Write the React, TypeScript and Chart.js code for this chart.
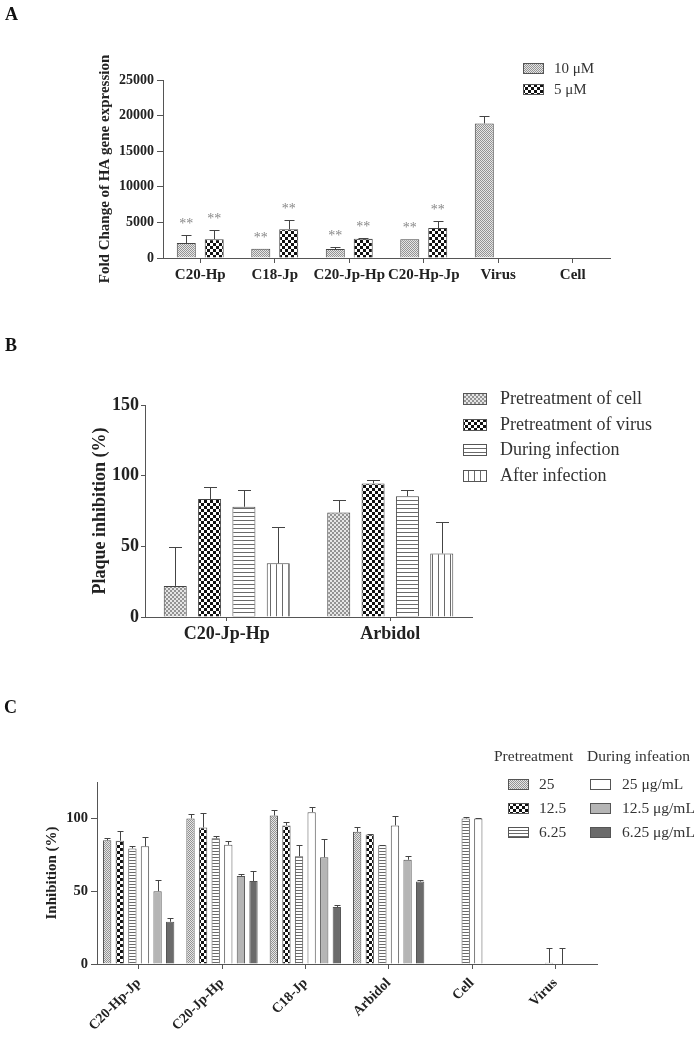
import React, { useEffect, useRef } from 'react';
import { Chart, registerables } from 'chart.js';
Chart.register(...registerables);

const FONT = "'Liberation Serif', 'Times New Roman', serif";
const AXIS = '#555';
const TXT = '#222';

// ---------- Panel A ----------
const catsA = ['C20-Hp', 'C18-Jp', 'C20-Jp-Hp', 'C20-Hp-Jp', 'Virus', 'Cell'];
const a10 = [2100, 1300, 1250, 2650, 18900, null];
const a10Err = [1150, 0, 330, 0, 1100, null];
const a5 = [2650, 4050, 2700, 4200, null, null];
const a5Err = [1300, 1300, 80, 1000, null, null];
const a10Stars = ['**', '**', '**', '**', '', ''];
const a5Stars = ['**', '**', '**', '**', '', ''];
const legendA = ['10 \u03bcM', '5 \u03bcM'];
const ticksA = [0, 5000, 10000, 15000, 20000, 25000];
const titleA = 'Fold Change of HA gene expression';

// ---------- Panel B ----------
const catsB = ['C20-Jp-Hp', 'Arbidol'];
const bCell = [22, 74];
const bCellErr = [27.5, 8.5];
const bVirus = [83.5, 94.5];
const bVirusErr = [8.5, 2.5];
const bDuring = [78, 85.5];
const bDuringErr = [12, 4.3];
const bAfter = [38, 45];
const bAfterErr = [26, 22];
const legendB = ['Pretreatment of cell', 'Pretreatment of virus', 'During infection', 'After infection'];
const ticksB = [0, 50, 100, 150];
const titleB = 'Plaque inhibition (%)';

// ---------- Panel C ----------
const catsC = ['C20-Hp-Jp', 'C20-Jp-Hp', 'C18-Jp', 'Arbidol', 'Cell', 'Virus'];
const cPre25 = [85, 100, 102, 90.8, null, null];
const cPre25Err = [1.7, 3, 3.7, 3, null, null];
const cPre12 = [84.7, 93.8, 95.2, 89, null, null];
const cPre12Err = [6.8, 9.6, 2.5, 0.4, null, null];
const cPre6 = [79.4, 86.3, 74, 81.5, 100, 0.8];
const cPre6Err = [1.6, 1.7, 7.5, 0.3, 1, 10];
const cDur25 = [80.8, 81.9, 104.3, 95.2, 100, 0];
const cDur25Err = [6.2, 2.3, 3.2, 6.4, 0.3, 11];
const cDur12 = [50, 60.5, 73.3, 71.6, null, null];
const cDur12Err = [7.7, 1.5, 12.7, 2.6, null, null];
const cDur6 = [29, 57, 39.2, 56.6, null, null];
const cDur6Err = [2.7, 6.7, 1.4, 1.3, null, null];
const legendCPreHeader = 'Pretreatment';
const legendCDurHeader = 'During infeation';
const legendCPre = ['25', '12.5', '6.25'];
const legendCDur = ['25 \u03bcg/mL', '12.5 \u03bcg/mL', '6.25 \u03bcg/mL'];
const ticksC = [0, 50, 100];
const titleC = 'Inhibition (%)';

function pattern(kind: string, s: number): CanvasPattern | string {
  const c = document.createElement('canvas');
  const g = c.getContext('2d')!;
  if (kind === 'stipple') {
    c.width = 2 * s; c.height = 2 * s;
    g.fillStyle = '#e6e6e6'; g.fillRect(0, 0, 2 * s, 2 * s);
    g.fillStyle = '#939393'; g.fillRect(0, 0, s, s); g.fillRect(s, s, s, s);
  } else if (kind === 'checker') {
    c.width = 2 * s; c.height = 2 * s;
    g.fillStyle = '#fff'; g.fillRect(0, 0, 2 * s, 2 * s);
    g.fillStyle = '#111'; g.fillRect(0, 0, s, s); g.fillRect(s, s, s, s);
  } else if (kind === 'hlines') {
    c.width = 2; c.height = s;
    g.fillStyle = '#fff'; g.fillRect(0, 0, 2, s);
    g.fillStyle = '#6a6a6a'; g.fillRect(0, 0, 2, 1);
  } else {
    c.width = s; c.height = 2;
    g.fillStyle = '#fff'; g.fillRect(0, 0, s, 2);
    g.fillStyle = '#6a6a6a'; g.fillRect(0, 0, 1, 2);
  }
  return g.createPattern(c, 'repeat')!;
}

function yAxis(o: { max: number; ticks: number[]; width: number; size: number; tickLen: number; pad: number }) {
  return {
    min: 0, max: o.max, bounds: 'data',
    afterBuildTicks: (s: any) => { s.ticks = o.ticks.map((v) => ({ value: v })); },
    afterFit: (s: any) => { s.width = o.width; s.paddingTop = 0; s.paddingBottom = 0; },
    grid: { display: true, drawOnChartArea: false, drawTicks: true, tickLength: o.tickLen, color: AXIS, lineWidth: 1 },
    border: { display: true, color: AXIS, width: 1 },
    ticks: { font: { family: FONT, size: o.size, weight: 'bold' }, color: TXT, padding: o.pad, callback: (v: any) => String(v) },
  };
}

function xAxis(o: { height: number; size: number; tickLen: number; pad: number; rot: number }) {
  return {
    type: 'category', offset: true,
    afterFit: (s: any) => { s.height = o.height; s.paddingLeft = 0; s.paddingRight = 0; },
    grid: { display: true, offset: false, drawOnChartArea: false, drawTicks: true, tickLength: o.tickLen, color: AXIS, lineWidth: 1 },
    border: { display: true, color: AXIS, width: 1 },
    ticks: { font: { family: FONT, size: o.size, weight: 'bold' }, color: TXT, padding: o.pad, autoSkip: false, minRotation: o.rot, maxRotation: o.rot },
  };
}

function errorsPlugin(errs: (number | null)[][], cap: number, stars?: string[][], starFont?: string) {
  return {
    id: 'errs',
    afterDatasetsDraw(chart: any) {
      const ctx = chart.ctx;
      const y = chart.scales.y;
      ctx.save();
      ctx.strokeStyle = '#444';
      ctx.lineWidth = 1;
      chart.data.datasets.forEach((ds: any, i: number) => {
        const meta = chart.getDatasetMeta(i);
        ds.data.forEach((v: number | null, j: number) => {
          if (v == null) return;
          const el = meta.data[j];
          if (!el || !isFinite(el.x)) return;
          const e = errs[i][j];
          const base = y.getPixelForValue(v);
          const top = y.getPixelForValue(v + (e || 0));
          const x = Math.round(el.x) + 0.5;
          if (e) {
            ctx.beginPath();
            ctx.moveTo(x, base);
            ctx.lineTo(x, Math.round(top) + 0.5);
            ctx.moveTo(x - cap / 2, Math.round(top) + 0.5);
            ctx.lineTo(x + cap / 2, Math.round(top) + 0.5);
            ctx.stroke();
          }
          if (stars && stars[i][j]) {
            ctx.fillStyle = '#888';
            ctx.font = starFont;
            ctx.textAlign = 'center';
            ctx.textBaseline = 'alphabetic';
            ctx.fillText(stars[i][j], el.x, top - 7);
          }
        });
      });
      ctx.restore();
    },
  };
}

function textPlugin(draw: (ctx: CanvasRenderingContext2D, chart: any) => void) {
  return { id: 'decor', afterDraw(chart: any) { const ctx = chart.ctx; ctx.save(); draw(ctx, chart); ctx.restore(); } };
}

function vTitle(ctx: CanvasRenderingContext2D, chart: any, text: string, x: number, font: string) {
  const ca = chart.chartArea;
  ctx.save();
  ctx.translate(x, (ca.top + ca.bottom) / 2);
  ctx.rotate(-Math.PI / 2);
  ctx.font = font;
  ctx.fillStyle = TXT;
  ctx.textAlign = 'center';
  ctx.textBaseline = 'middle';
  ctx.fillText(text, 0, 0);
  ctx.restore();
}

function panelLabel(ctx: CanvasRenderingContext2D, t: string, x: number, y: number) {
  ctx.font = `bold 18px ${FONT}`;
  ctx.fillStyle = '#111';
  ctx.textAlign = 'left';
  ctx.textBaseline = 'alphabetic';
  ctx.fillText(t, x, y);
}

function swatch(ctx: CanvasRenderingContext2D, fill: any, x: number, y: number, w: number, h: number, label: string, tx: number, font: string) {
  ctx.fillStyle = fill;
  ctx.fillRect(x, y, w, h);
  ctx.strokeStyle = '#555';
  ctx.lineWidth = 1;
  ctx.strokeRect(x + 0.5, y + 0.5, w, h);
  ctx.fillStyle = '#333';
  ctx.font = font;
  ctx.textAlign = 'left';
  ctx.textBaseline = 'middle';
  ctx.fillText(label, tx, y + h / 2 + 1);
}

const baseOpts = (pad: any) => ({
  responsive: false, animation: false, devicePixelRatio: 1,
  layout: { padding: pad },
  plugins: { legend: { display: false }, tooltip: { enabled: false } },
});

function makeA(canvas: HTMLCanvasElement) {
  const stip = pattern('stipple', 1);
  const chk = pattern('checker', 3);
  const common = { borderColor: '#444', borderWidth: 1, categoryPercentage: 0.75, barPercentage: 0.68 };
  return new Chart(canvas, {
    type: 'bar',
    data: {
      labels: catsA,
      datasets: [
        { label: legendA[0], data: a10, backgroundColor: stip, ...common },
        { label: legendA[1], data: a5, backgroundColor: chk, ...common },
      ],
    },
    options: {
      ...baseOpts({ left: 0, top: 80, right: 90, bottom: 0 }),
      scales: {
        x: xAxis({ height: 42, size: 15, tickLen: 5, pad: 3, rot: 0 }),
        y: yAxis({ max: 25000, ticks: ticksA, width: 163, size: 14, tickLen: 6, pad: 3 }),
      },
    } as any,
    plugins: [
      errorsPlugin([a10Err, a5Err], 10, [a10Stars, a5Stars], `14px ${FONT}`),
      textPlugin((ctx, chart) => {
        panelLabel(ctx, 'A', 5, 20);
        vTitle(ctx, chart, titleA, 105, `bold 15px ${FONT}`);
        const f = `15px ${FONT}`;
        swatch(ctx, stip, 523, 63, 20, 10, legendA[0], 554, f);
        swatch(ctx, chk, 523, 84, 20, 10, legendA[1], 554, f);
      }),
    ] as any,
  });
}

function makeB(canvas: HTMLCanvasElement) {
  const stip = pattern('stipple', 2);
  const chk = pattern('checker', 3);
  const hl = pattern('hlines', 4);
  const vl = pattern('vlines', 6);
  const common = { borderColor: '#444', borderWidth: 1, categoryPercentage: 0.84, barPercentage: 0.67 };
  const fills = [stip, chk, hl, vl];
  return new Chart(canvas, {
    type: 'bar',
    data: {
      labels: catsB,
      datasets: [
        { label: legendB[0], data: bCell, backgroundColor: stip, ...common },
        { label: legendB[1], data: bVirus, backgroundColor: chk, ...common },
        { label: legendB[2], data: bDuring, backgroundColor: hl, ...common },
        { label: legendB[3], data: bAfter, backgroundColor: vl, ...common },
      ],
    },
    options: {
      ...baseOpts({ left: 0, top: 85, right: 228, bottom: 0 }),
      scales: {
        x: xAxis({ height: 43, size: 18, tickLen: 4, pad: 3, rot: 0 }),
        y: yAxis({ max: 150, ticks: ticksB, width: 145, size: 18, tickLen: 4, pad: 2 }),
      },
    } as any,
    plugins: [
      errorsPlugin([bCellErr, bVirusErr, bDuringErr, bAfterErr], 13),
      textPlugin((ctx, chart) => {
        panelLabel(ctx, 'B', 5, 31);
        vTitle(ctx, chart, titleB, 100, `bold 18px ${FONT}`);
        const f = `18px ${FONT}`;
        const ys = [79, 105, 130, 156];
        legendB.forEach((t, i) => swatch(ctx, fills[i], 463, ys[i] - 6, 23, 11, t, 500, f));
      }),
    ] as any,
  });
}

function makeC(canvas: HTMLCanvasElement) {
  const stip = pattern('stipple', 1);
  const chk = pattern('checker', 3);
  const hl = pattern('hlines', 3);
  const fills = [stip, chk, hl, '#ffffff', '#b5b5b5', '#6b6b6b'];
  const common = { borderColor: '#555', borderWidth: 1, categoryPercentage: 0.907, barPercentage: 0.66 };
  const series = [cPre25, cPre12, cPre6, cDur25, cDur12, cDur6];
  const labels = [...legendCPre, ...legendCDur];
  return new Chart(canvas, {
    type: 'bar',
    data: {
      labels: catsC,
      datasets: series.map((d, i) => ({ label: labels[i], data: d, backgroundColor: fills[i], ...common })),
    },
    options: {
      ...baseOpts({ left: 0, top: 102, right: 103, bottom: 0 }),
      scales: {
        x: xAxis({ height: 75, size: 14, tickLen: 5, pad: 6, rot: 45 }),
        y: yAxis({ max: 125, ticks: ticksC, width: 97, size: 14.5, tickLen: 6, pad: 3 }),
      },
    } as any,
    plugins: [
      errorsPlugin([cPre25Err, cPre12Err, cPre6Err, cDur25Err, cDur12Err, cDur6Err], 6),
      textPlugin((ctx, chart) => {
        panelLabel(ctx, 'C', 4, 33);
        vTitle(ctx, chart, titleC, 52, `bold 15px ${FONT}`);
        const f = `15.5px ${FONT}`;
        ctx.fillStyle = '#333';
        ctx.font = f;
        ctx.textAlign = 'left';
        ctx.textBaseline = 'middle';
        ctx.fillText(legendCPreHeader, 494, 77);
        ctx.fillText(legendCDurHeader, 587, 77);
        const ys = [104, 128, 152];
        legendCPre.forEach((t, i) => swatch(ctx, fills[i], 508, ys[i] - 5, 20, 10, t, 539, f));
        legendCDur.forEach((t, i) => swatch(ctx, fills[i + 3], 590, ys[i] - 5, 20, 10, t, 622, f));
      }),
    ] as any,
  });
}

function ChartCanvas({ top, height, make }: { top: number; height: number; make: (c: HTMLCanvasElement) => Chart }) {
  const ref = useRef<HTMLCanvasElement>(null);
  useEffect(() => {
    const chart = make(ref.current!);
    return () => chart.destroy();
  }, []);
  return (
    <canvas ref={ref} width={700} height={height}
      style={{ position: 'absolute', left: 0, top, width: 700, height, display: 'block' }} />
  );
}

export default function App() {
  return (
    <div style={{ position: 'absolute', left: 0, top: 0, width: 700, height: 1039, overflow: 'hidden', background: '#fff' }}>
      <ChartCanvas top={0} height={300} make={makeA} />
      <ChartCanvas top={320} height={340} make={makeB} />
      <ChartCanvas top={680} height={359} make={makeC} />
    </div>
  );
}
